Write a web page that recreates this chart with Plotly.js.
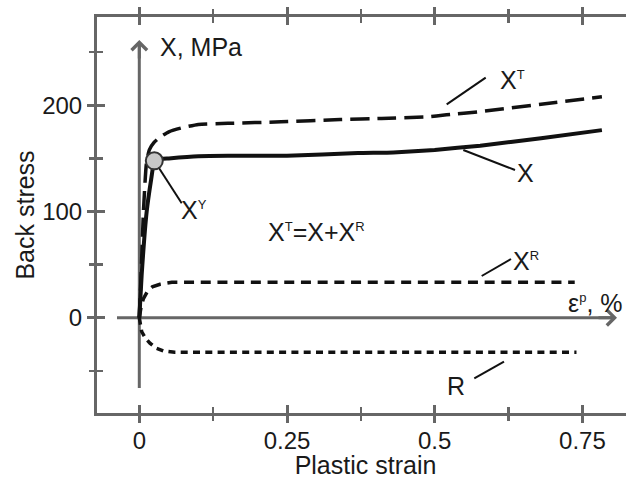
<!DOCTYPE html>
<html>
<head>
<meta charset="utf-8">
<script src="https://cdn.plot.ly/plotly-3.0.1.min.js"></script>
<style>
html,body{margin:0;padding:0;overflow:hidden;background:#fff;}
#chart{width:634px;height:479px;}
</style>
</head>
<body>
<div id="chart"></div>
<script>
// ---- data (plastic strain %, back stress MPa) ----
const strainX  = [0, 0.004, 0.0125, 0.02, 0.0254, 0.03, 0.05, 0.1, 0.15, 0.25, 0.37, 0.43, 0.5, 0.577, 0.68, 0.783];
const stressX  = [0, 40, 100, 130, 147.7, 149, 150, 152, 152.5, 152.5, 155, 155.5, 158, 162, 169, 176.6];

const strainXT = [0, 0.003, 0.007, 0.012, 0.017, 0.025, 0.035, 0.05, 0.07, 0.1, 0.15, 0.24, 0.34, 0.41, 0.486, 0.52, 0.577, 0.68, 0.783];
const stressXT = [0, 40, 100, 145, 158, 165, 170, 175, 178.5, 182, 183, 184.4, 186.6, 187.6, 189, 191, 194, 201, 208];

const strainXR = [0, 0.003, 0.007, 0.014, 0.022, 0.035, 0.055, 0.737];
const stressXR = [0, 10, 18, 25, 29, 31.5, 33.3, 33.3];

const strainR  = [0, 0.004, 0.01, 0.018, 0.028, 0.041, 0.06, 0.74];
const stressR  = [0, -13, -19, -24, -28.5, -31.3, -32.5, -32.5];

const yieldStrain = [0.0254];
const yieldStress = [147.7];

const xTickVals = [0, 0.25, 0.5, 0.75];
const xTickText = ['0', '0.25', '0.5', '0.75'];
const yTickVals = [0, 100, 200];
const yTickText = ['0', '100', '200'];

// ---- layout helpers (pixel -> data for annotations) ----
const X0 = 139.3, KX = 590.8, Y0 = 317.7, KY = 1.0621;
const dx = px => (px - X0) / KX;
const dy = py => (Y0 - py) / KY;
const xRange = [dx(97), dx(634)];
const yRange = [dy(413), dy(17)];

const FONT = 'Liberation Sans, Arial, sans-serif';
const TXT = '#1a1a1a';
const GRAY = '#666666';
const FS = 25;
const TFS = 24;
const sup = s => '<sup><span style="font-size:13px">' + s + '</span></sup>';

const traces = [
  {x: strainXR, y: stressXR, mode: 'lines', line: {color: '#111', width: 3.5, dash: '10px,6.7px'}, hoverinfo: 'skip'},
  {x: strainR, y: stressR, mode: 'lines', line: {color: '#111', width: 3.5, dash: '7px,5.3px'}, hoverinfo: 'skip'},
  {x: strainXT, y: stressXT, mode: 'lines', line: {color: '#111', width: 3.5, dash: '19px,8px', shape: 'spline', smoothing: 0.5}, hoverinfo: 'skip'},
  {x: strainX, y: stressX, mode: 'lines', line: {color: '#111', width: 4, shape: 'spline', smoothing: 0.4}, hoverinfo: 'skip'},
  {x: yieldStrain, y: yieldStress, mode: 'markers', marker: {size: 17, color: '#c8c8c8', line: {color: '#333', width: 2}}, hoverinfo: 'skip'},
  {x: [null], y: [null], xaxis: 'x2', yaxis: 'y2', mode: 'lines', hoverinfo: 'skip'}
];

function label(text, pxLeft, pyMid) {
  return {text: text, x: dx(pxLeft), y: dy(pyMid), xref: 'x', yref: 'y', xanchor: 'left', yanchor: 'middle',
          showarrow: false, font: {family: FONT, size: FS, color: TXT}};
}
function leader(x1, y1, x2, y2) {
  return {type: 'line', xref: 'x', yref: 'y', x0: dx(x1), y0: dy(y1), x1: dx(x2), y1: dy(y2),
          line: {color: '#111', width: 2}, layer: 'below'};
}
function arrowHead(tx, ty, fx, fy) {
  return {text: '', x: dx(tx), y: dy(ty), ax: dx(fx), ay: dy(fy), xref: 'x', yref: 'y', axref: 'x', ayref: 'y',
          showarrow: true, arrowhead: 4, arrowsize: 1, arrowwidth: 3, arrowcolor: GRAY, standoff: 0};
}

const axisCommon = {
  showgrid: false, zeroline: false, linecolor: GRAY, linewidth: 3,
  tickcolor: GRAY, tickwidth: 3, ticklen: 7,
  tickfont: {family: FONT, size: TFS, color: TXT}
};

const layout = {
  width: 634, height: 479,
  margin: {l: 97, r: 0, t: 17, b: 66},
  paper_bgcolor: '#fff', plot_bgcolor: '#fff',
  showlegend: false,
  xaxis: Object.assign({}, axisCommon, {
    range: xRange, showline: true, mirror: 'ticks', ticks: 'outside', ticklabelstandoff: -3,
    tickvals: xTickVals, ticktext: xTickText,
    minor: {dtick: 0.125, tick0: 0, ticks: 'outside', ticklen: 5, tickwidth: 2.5, tickcolor: GRAY},
    title: {text: 'Plastic strain', font: {family: FONT, size: FS, color: TXT}, standoff: 8}
  }),
  yaxis: Object.assign({}, axisCommon, {
    range: yRange, showline: true, mirror: 'ticks', ticks: 'outside',
    tickvals: yTickVals, ticktext: yTickText,
    minor: {dtick: 50, tick0: 0, ticks: 'outside', ticklen: 5, tickwidth: 2.5, tickcolor: GRAY},
    title: {text: 'Back stress', font: {family: FONT, size: FS, color: TXT}, standoff: 1}
  }),
  xaxis2: Object.assign({}, axisCommon, {
    range: xRange, overlaying: 'x', anchor: 'y2', side: 'bottom', showline: false, mirror: 'ticks',
    ticks: 'inside', ticklen: 8, tickvals: xTickVals, showticklabels: false,
    minor: {dtick: 0.125, tick0: 0, ticks: 'inside', ticklen: 6, tickwidth: 2.5, tickcolor: GRAY}
  }),
  yaxis2: Object.assign({}, axisCommon, {
    range: yRange, overlaying: 'y', anchor: 'x2', side: 'left', showline: false, mirror: 'ticks',
    ticks: 'inside', ticklen: 8, tickvals: yTickVals, showticklabels: false,
    minor: {dtick: 50, tick0: 0, ticks: 'inside', ticklen: 6, tickwidth: 2.5, tickcolor: GRAY}
  }),
  shapes: [
    {type: 'line', xref: 'x', yref: 'y', x0: dx(139.3), y0: dy(388), x1: dx(139.3), y1: dy(44),
     line: {color: GRAY, width: 3}, layer: 'below'},
    {type: 'line', xref: 'x', yref: 'y', x0: dx(117), y0: dy(317.7), x1: dx(613), y1: dy(317.7),
     line: {color: GRAY, width: 3}, layer: 'below'},
    leader(446.7, 104.3, 485.7, 77.7),
    leader(463.3, 150, 515, 170),
    leader(154.3, 160.7, 181.7, 203.3),
    leader(481.7, 276, 511, 259),
    leader(474.3, 378.3, 504, 361.7)
  ],
  annotations: [
    arrowHead(139.3, 40, 139.3, 60),
    arrowHead(617, 317.7, 597, 317.7),
    label('X, MPa', 158, 47),
    label('X' + sup('T'), 498, 80),
    label('X', 515, 173),
    label('X' + sup('Y'), 179, 210),
    label('X' + sup('T') + '=X+X' + sup('R'), 266, 232),
    label('X' + sup('R'), 511, 261),
    label('R', 445, 386),
    label('ε' + sup('p') + ', %', 566, 303)
  ]
};

Plotly.newPlot('chart', traces, layout, {staticPlot: true, displayModeBar: false});
</script>
</body>
</html>
